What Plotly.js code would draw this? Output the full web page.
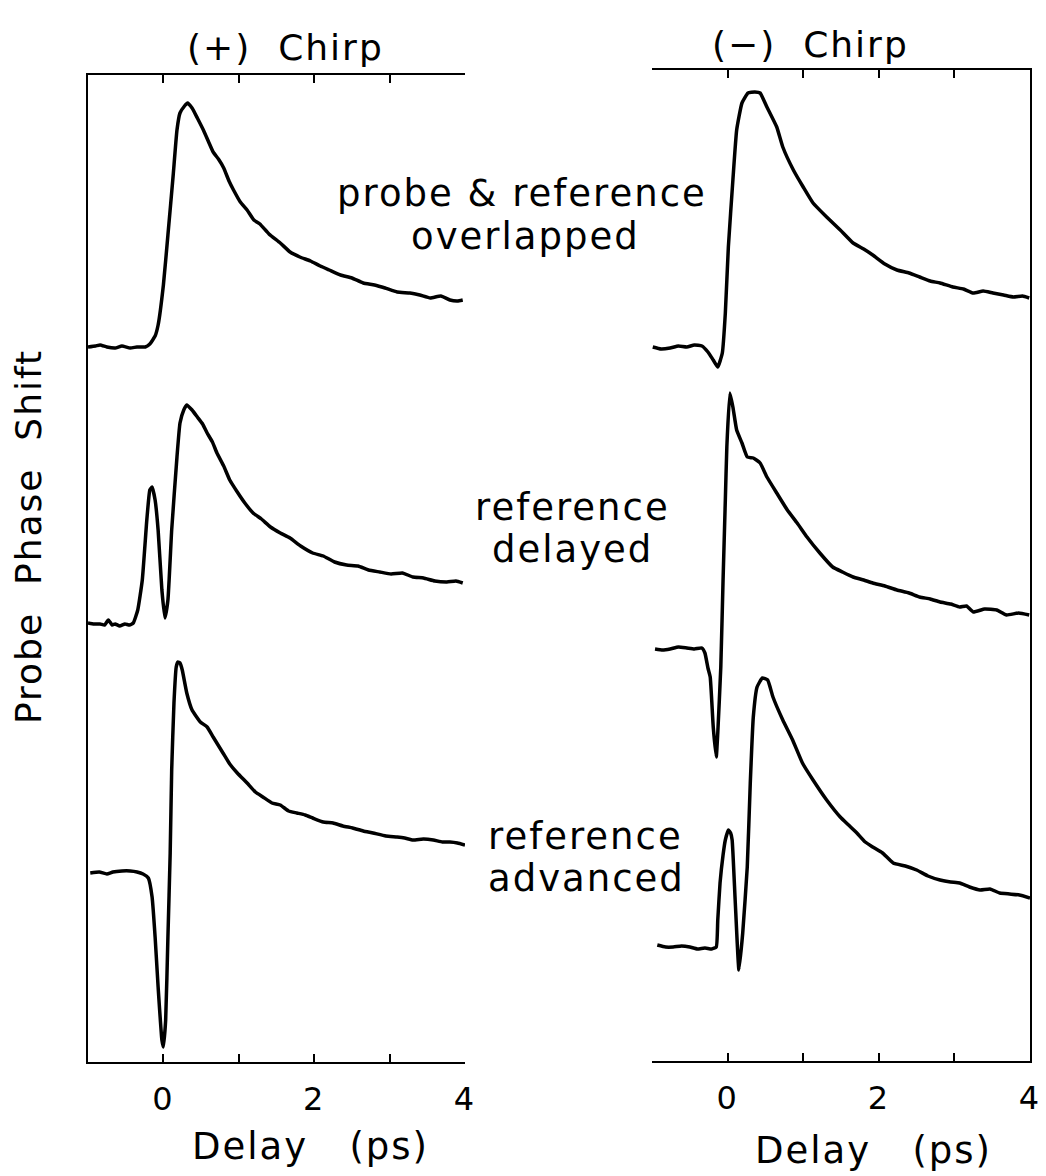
<!DOCTYPE html>
<html>
<head>
<meta charset="utf-8">
<script src="https://cdn.plot.ly/plotly-3.0.1.min.js"></script>
<style>
  html, body { margin: 0; padding: 0; background: #fff; }
  #chart { width: 1046px; height: 1176px; }
  svg text { letter-spacing: 2px; }
</style>
</head>
<body>
<div id="chart"></div>
<script>
// ---- Data (delay in ps, phase shift in arbitrary offset units) ----
// (+) chirp, probe & reference overlapped
const plusOverlapX = [-1.0,-0.9,-0.84,-0.75,-0.64,-0.55,-0.44,-0.35,-0.24,-0.18,-0.11,-0.07,0.0,0.06,0.13,0.18,0.22,0.28,0.32,0.38,0.45,0.53,0.60,0.66,0.73,0.80,0.87,0.93,1.02,1.11,1.20,1.28,1.40,1.55,1.68,1.81,1.95,2.08,2.20,2.35,2.50,2.65,2.80,2.94,3.10,3.27,3.40,3.54,3.68,3.80,3.90,3.97];
const plusOverlapY = [71.5,71.6,71.7,71.5,71.4,71.6,71.4,71.5,71.5,71.8,72.6,73.7,77.7,82.7,88.7,93.2,94.9,95.6,95.9,95.4,94.4,93.2,92.0,91.0,90.3,89.4,88.1,87.2,86.0,85.2,84.2,83.8,82.8,81.9,81.0,80.5,80.1,79.6,79.2,78.7,78.4,77.9,77.7,77.4,77.0,76.9,76.7,76.4,76.6,76.2,76.1,76.2];

// (+) chirp, reference delayed
const plusDelayedX = [-1.0,-0.92,-0.84,-0.78,-0.73,-0.68,-0.64,-0.58,-0.51,-0.45,-0.40,-0.34,-0.28,-0.22,-0.18,-0.15,-0.11,-0.07,-0.02,0.02,0.06,0.11,0.18,0.22,0.27,0.31,0.38,0.45,0.52,0.58,0.65,0.71,0.80,0.88,0.98,1.08,1.19,1.30,1.42,1.55,1.68,1.82,1.98,2.12,2.27,2.43,2.58,2.72,2.87,3.02,3.17,3.31,3.45,3.60,3.76,3.88,3.97];
const plusDelayedY = [43.9,43.8,43.8,43.7,44.2,43.7,43.8,43.6,43.8,43.7,43.9,45.2,48.2,54.2,57.2,57.5,56.2,53.2,47.2,44.4,46.2,53.2,60.5,63.9,65.2,65.7,65.2,64.5,63.8,62.9,62.0,60.9,59.6,58.2,57.0,55.9,54.9,54.3,53.5,52.9,52.4,51.6,50.9,50.6,50.0,49.7,49.6,49.2,49.0,48.8,48.9,48.5,48.4,48.1,48.0,48.1,47.9];

// (+) chirp, reference advanced
const plusAdvancedX = [-0.97,-0.85,-0.75,-0.67,-0.55,-0.44,-0.35,-0.27,-0.20,-0.15,-0.11,-0.07,-0.02,0.00,0.03,0.06,0.09,0.11,0.14,0.17,0.19,0.22,0.25,0.31,0.38,0.49,0.58,0.66,0.79,0.88,0.98,1.11,1.22,1.32,1.44,1.55,1.66,1.77,1.88,1.98,2.12,2.25,2.38,2.51,2.65,2.78,2.95,3.10,3.20,3.31,3.45,3.58,3.70,3.80,3.90,4.0];
const plusAdvancedY = [18.9,19.0,18.8,19.0,19.1,19.1,19.0,18.8,18.4,16.5,12.5,7.5,2.2,1.5,4.2,12.5,20.9,29.2,35.9,39.5,40.0,39.9,39.2,36.9,35.2,34.0,33.5,32.5,30.9,29.8,28.9,27.9,27.0,26.5,25.9,25.7,25.1,24.9,24.7,24.4,24.0,23.9,23.6,23.4,23.1,22.9,22.6,22.5,22.4,22.2,22.3,22.2,22.0,22.0,21.9,21.7];

// (-) chirp, probe & reference overlapped
const minusOverlapX = [-0.99,-0.88,-0.76,-0.65,-0.54,-0.44,-0.34,-0.26,-0.19,-0.13,-0.07,-0.03,0.01,0.07,0.12,0.19,0.27,0.36,0.43,0.52,0.65,0.73,0.87,1.0,1.13,1.31,1.49,1.66,1.80,1.92,2.08,2.24,2.40,2.54,2.68,2.81,2.98,3.12,3.25,3.38,3.51,3.65,3.78,3.90,3.99];
const minusOverlapY = [71.5,71.3,71.4,71.6,71.5,71.7,71.6,71.0,70.2,69.5,70.9,74.9,81.5,88.2,93.2,95.9,96.9,97.0,96.9,95.5,93.5,91.5,89.2,87.5,85.9,84.5,83.2,81.9,81.3,80.7,79.8,79.2,78.9,78.5,78.1,77.9,77.5,77.3,76.9,77.1,76.9,76.7,76.5,76.6,76.4];

// (-) chirp, reference delayed
const minusDelayedX = [-0.96,-0.86,-0.76,-0.65,-0.54,-0.44,-0.34,-0.30,-0.26,-0.23,-0.19,-0.15,-0.13,-0.09,-0.06,-0.03,-0.01,0.03,0.07,0.12,0.19,0.26,0.34,0.43,0.52,0.65,0.79,0.92,1.05,1.22,1.39,1.52,1.66,1.80,1.92,2.08,2.24,2.40,2.54,2.68,2.81,2.95,3.07,3.16,3.25,3.40,3.56,3.69,3.85,3.99];
const minusDelayedY = [41.3,41.2,41.3,41.5,41.4,41.3,41.4,40.9,39.4,38.5,33.5,30.5,32.9,39.5,48.2,56.2,61.5,66.9,65.5,63.2,61.9,60.5,60.4,59.9,58.5,56.9,55.2,53.9,52.5,50.9,49.5,49.0,48.5,48.2,47.9,47.6,47.2,46.9,46.5,46.3,46.0,45.8,45.5,45.6,45.0,45.3,45.2,44.7,44.9,44.7];

// (-) chirp, reference advanced
const minusAdvancedX = [-0.93,-0.82,-0.72,-0.61,-0.50,-0.40,-0.30,-0.21,-0.15,-0.13,-0.10,-0.06,-0.03,0.01,0.04,0.06,0.10,0.15,0.20,0.26,0.30,0.34,0.39,0.46,0.53,0.60,0.73,0.86,0.99,1.13,1.31,1.49,1.60,1.71,1.82,1.92,2.05,2.19,2.35,2.50,2.65,2.81,2.95,3.07,3.20,3.34,3.47,3.60,3.73,3.86,4.0];
const minusAdvancedY = [11.7,11.5,11.5,11.6,11.5,11.3,11.4,11.3,11.5,14.2,17.9,20.7,22.2,23.2,22.9,22.2,16.2,9.2,12.9,19.5,27.9,34.5,37.5,38.4,38.2,36.5,34.2,32.2,29.9,28.2,26.2,24.5,23.7,22.9,22.0,21.5,20.9,19.9,19.6,19.2,18.6,18.2,18.0,17.9,17.5,17.2,17.3,16.9,16.8,16.7,16.4];

// Axis ticks
const tickVals = [-1, 0, 1, 2, 3, 4];
const tickText = ['', '0', '', '2', '', '4'];

// Text
const panelTitles = ['(+)\u00a0 Chirp', '(\u2212)\u00a0 Chirp'];
const xTitle = 'Delay\u00a0\u00a0 (ps)';
const yTitle = 'Probe\u00a0 Phase\u00a0 Shift';
const labels = ['probe & reference', 'overlapped', 'reference', 'delayed', 'reference', 'advanced'];

// ---- Layout helpers (pixel -> paper) ----
const W = 1046, H = 1176;
const px = p => p / W;
const py = p => 1 - p / H;

const FONT = 'DejaVu Sans, Arial, sans-serif';
const lineStyle = {color: '#000', width: 3.5, shape: 'spline', smoothing: 0.4};

function tr(x, y, xa, ya) {
  return {x: x, y: y, xaxis: xa, yaxis: ya, type: 'scatter', mode: 'lines',
          line: lineStyle, hoverinfo: 'skip', showlegend: false};
}

const data = [
  tr(plusOverlapX, plusOverlapY, 'x', 'y'),
  tr(plusDelayedX, plusDelayedY, 'x', 'y'),
  tr(plusAdvancedX, plusAdvancedY, 'x', 'y'),
  tr(minusOverlapX, minusOverlapY, 'x2', 'y2'),
  tr(minusDelayedX, minusDelayedY, 'x2', 'y2'),
  tr(minusAdvancedX, minusAdvancedY, 'x2', 'y2')
];

function xax(d0, d1, anchor) {
  return {
    domain: [px(d0), px(d1)], range: [-1, 4], anchor: anchor,
    showline: true, linecolor: '#000', linewidth: 2, mirror: 'ticks',
    ticks: 'inside', ticklen: 8, tickwidth: 2, tickcolor: '#000',
    tickmode: 'array', tickvals: tickVals, ticktext: tickText,
    tickfont: {family: FONT, size: 32, color: '#000'},
    ticklabelstandoff: 8,
    showgrid: false, zeroline: false, fixedrange: true
  };
}
function yax(top, bottom, anchor, side) {
  return {
    domain: [py(bottom), py(top)], range: [(1062 - bottom) / 10, (1062 - top) / 10],
    anchor: anchor, side: side,
    showline: true, linecolor: '#000', linewidth: 2,
    ticks: '', showticklabels: false,
    showgrid: false, zeroline: false, fixedrange: true
  };
}

function ann(text, x, y, size, angle) {
  return {text: text, x: px(x), y: py(y), xref: 'paper', yref: 'paper',
          xanchor: 'center', yanchor: 'middle', showarrow: false,
          textangle: angle || 0,
          font: {family: FONT, size: size, color: '#000'}};
}

const layout = {
  width: W, height: H,
  margin: {l: 0, r: 0, t: 0, b: 0},
  paper_bgcolor: '#fff', plot_bgcolor: 'rgba(0,0,0,0)',
  font: {family: FONT, color: '#000'},
  showlegend: false,
  xaxis: xax(88, 465, 'y'),
  yaxis: yax(75, 1062, 'x', 'left'),
  xaxis2: xax(652, 1030, 'y2'),
  yaxis2: yax(70, 1061, 'x2', 'right'),
  annotations: [
    ann(panelTitles[0], 285, 47, 36),
    ann(panelTitles[1], 810, 44, 36),
    ann(xTitle, 310, 1146, 37),
    ann(xTitle, 873, 1150, 37),
    ann(yTitle, 28, 537, 36, -90),
    ann(labels[0], 522, 193, 37),
    ann(labels[1], 525, 236, 37),
    ann(labels[2], 572, 508, 37),
    ann(labels[3], 572, 549, 37),
    ann(labels[4], 585, 836, 37),
    ann(labels[5], 586, 878, 37)
  ]
};

Plotly.newPlot('chart', data, layout, {staticPlot: true, displayModeBar: false});
</script>
</body>
</html>
